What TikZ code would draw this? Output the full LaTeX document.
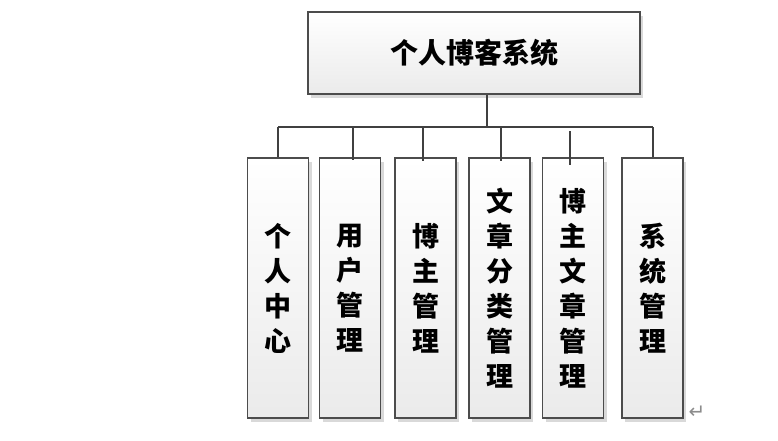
\documentclass[tikz,border=0pt]{standalone}
\usepackage{fontspec}
\newfontfamily\cjk{Noto Sans CJK SC}
\newfontfamily\sym{DejaVu Sans}
\usetikzlibrary{shadows}

\tikzset{
  box/.style={draw=black!70, line width=1.2pt, top color=white, bottom color=black!8,
    drop shadow={shadow xshift=3pt, shadow yshift=-4pt, fill=black!15, opacity=1},
    font=\cjk\bfseries, align=center, inner sep=0pt},
  rootbox/.style={box, minimum width=332pt, minimum height=82pt, font=\cjk\bfseries\fontsize{28}{30}\selectfont},
  subbox/.style={box, minimum width=61pt, minimum height=260pt, text width=40pt,
    font=\cjk\bfseries\fontsize{27}{35}\selectfont},
  conn/.style={draw=black!75, line width=2.2pt}
}

\begin{document}
\begin{tikzpicture}[x=1pt, y=-1pt]
  \useasboundingbox (0,0) rectangle (778,440);

  \node[rootbox] (root) at (474,53) {个人博客系统};

  \node[subbox] (c1) at (278,288)   {个\\人\\中\\心};
  \node[subbox] (c2) at (350,288)   {用\\户\\管\\理};
  \node[subbox] (c3) at (425.5,288) {博\\主\\管\\理};
  \node[subbox] (c4) at (499.5,288) {文\\章\\分\\类\\管\\理};
  \node[subbox] (c5) at (573,288)   {博\\主\\文\\章\\管\\理};
  \node[subbox] (c6) at (652.5,288) {系\\统\\管\\理};

  \coordinate (bus) at (487,127);
  \coordinate (b1) at (278,127);
  \coordinate (b2) at (353,127);
  \coordinate (b3) at (423,127);
  \coordinate (b4) at (501,127);
  \coordinate (b5) at (570,131);
  \coordinate (b6) at (653,127);

  \draw[conn] (root.south -| bus) -- (bus);
  \draw[conn] (b1) -- (b6);
  \draw[conn] (b1) -- (b1 |- c1.north);
  \draw[conn] (b2) -- ([yshift=-3pt]b2 |- c2.north);
  \draw[conn] (b3) -- ([yshift=-4pt]b3 |- c3.north);
  \draw[conn] (b4) -- ([yshift=-4pt]b4 |- c4.north);
  \draw[conn] (b5) -- ([yshift=-8pt]b5 |- c5.north);
  \draw[conn] (b6) -- (b6 |- c6.north);

  \node[text=black!45, font=\sym\fontsize{20}{20}\selectfont] (ret) at (697,412) {↵};
\end{tikzpicture}
\end{document}
